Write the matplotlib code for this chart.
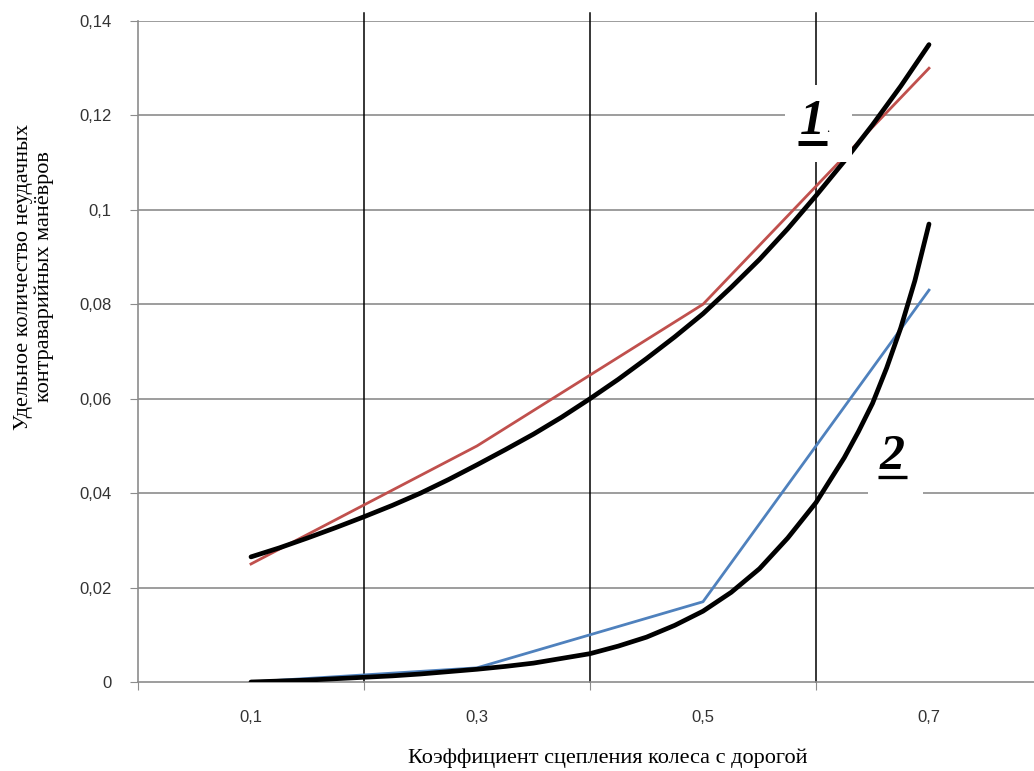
import matplotlib.pyplot as plt
from matplotlib.patches import Rectangle

# values
x_pts = [0.1, 0.3, 0.5, 0.7]
red_vals = [0.025, 0.05, 0.08, 0.13]
blue_vals = [0.0, 0.003, 0.017, 0.083]

x_fit1 = [0.1, 0.125, 0.15, 0.175, 0.2, 0.225, 0.25, 0.275, 0.3, 0.325, 0.35, 0.375, 0.4,
          0.425, 0.45, 0.475, 0.5, 0.525, 0.55, 0.575, 0.6, 0.625, 0.65, 0.675, 0.7]
fit1_vals = [0.0265, 0.0284, 0.0305, 0.0327, 0.035, 0.0374, 0.040, 0.0429, 0.046, 0.0492,
             0.0525, 0.0561, 0.060, 0.0641, 0.0685, 0.0731, 0.078, 0.0836, 0.0895, 0.0960,
             0.103, 0.1103, 0.118, 0.1262, 0.135]
x_fit2 = [0.1, 0.125, 0.15, 0.175, 0.2, 0.225, 0.25, 0.275, 0.3, 0.325, 0.35, 0.375, 0.4,
          0.425, 0.45, 0.475, 0.5, 0.525, 0.55, 0.575, 0.6, 0.625, 0.6375, 0.65, 0.6625,
          0.675, 0.6875, 0.7]
fit2_vals = [0.0, 0.0002, 0.0004, 0.0007, 0.001, 0.0013, 0.0017, 0.0022, 0.0027, 0.0033,
             0.004, 0.005, 0.006, 0.0076, 0.0095, 0.012, 0.015, 0.019, 0.024, 0.0305,
             0.038, 0.0475, 0.053, 0.059, 0.0665, 0.075, 0.085, 0.097]

x_labels = ["0,1", "0,3", "0,5", "0,7"]
y_ticks = [0, 0.02, 0.04, 0.06, 0.08, 0.1, 0.12, 0.14]
y_labels = ["0", "0,02", "0,04", "0,06", "0,08", "0,1", "0,12", "0,14"]

W, H = 1034, 771
fig = plt.figure(figsize=(W / 100, H / 100), dpi=100)
ax = fig.add_axes([138 / W, 89 / H, (W - 138) / W, 661 / H])

xpx = 1130  # pixels per unit x
ypx = 4721  # pixels per unit y
ax.set_xlim(0, (W - 138) / xpx)
ax.set_ylim(0, 0.14)

# grid
for y in y_ticks[1:]:
    ax.axhline(y, color="#8c8c8c", lw=1.2, zorder=1)
for xv in [0.2, 0.4, 0.6]:
    ax.axvline(xv, ymin=0, ymax=1.012, color="black", lw=1.1, zorder=1, clip_on=False)

ax.plot(x_pts, red_vals, color="#c0504d", lw=2.0, zorder=3)
ax.plot(x_pts, blue_vals, color="#4f81bd", lw=2.0, zorder=3)
ax.plot(x_fit1, fit1_vals, color="black", lw=3.4, zorder=4, solid_capstyle="round")
ax.plot(x_fit2, fit2_vals, color="black", lw=3.4, zorder=4, solid_capstyle="round")

# white boxes behind the curve labels
ax.add_patch(Rectangle(((785 - 138) / xpx, (682 - 162) / ypx), 67 / xpx, 77 / ypx,
                       facecolor="white", edgecolor="none", zorder=5))
ax.add_patch(Rectangle(((868 - 138) / xpx, (682 - 500) / ypx), 55 / xpx, 75 / ypx,
                       facecolor="white", edgecolor="none", zorder=5))

ax.text((812 - 138) / xpx, (682 - 134) / ypx, "1", fontsize=36, family="Liberation Serif",
        fontweight="bold", fontstyle="italic", ha="center", va="baseline", zorder=6)
ax.text((828 - 138) / xpx, (682 - 132) / ypx, ".", fontsize=9, family="Liberation Serif",
        ha="center", va="baseline", zorder=6)
ax.plot([(798 - 138) / xpx, (827 - 138) / xpx], [(682 - 143) / ypx] * 2, color="black",
        lw=3.6, zorder=6, solid_capstyle="butt")
ax.text((892 - 138) / xpx, (682 - 469) / ypx, "2", fontsize=36, family="Liberation Serif",
        fontweight="bold", fontstyle="italic", ha="center", va="baseline", zorder=6)
ax.plot([(878 - 138) / xpx, (907 - 138) / xpx], [(682 - 477) / ypx] * 2, color="black",
        lw=2.4, zorder=6, solid_capstyle="butt")

# axes styling
for s in ["top", "right"]:
    ax.spines[s].set_visible(False)
ax.spines["left"].set_color("#8c8c8c")
ax.spines["bottom"].set_color("#8c8c8c")
ax.spines["left"].set_linewidth(1.2)
ax.spines["bottom"].set_linewidth(1.2)

ax.set_yticks(y_ticks)
ax.set_yticklabels(y_labels, fontsize=12, family="Liberation Sans", color="#333333")
ax.tick_params(axis="y", length=6, color="#8c8c8c", pad=13)

ax.set_xticks([0.0, 0.2, 0.4, 0.6])
ax.set_xticklabels([])
ax.set_xticks(x_pts, minor=True)
ax.set_xticklabels(x_labels, minor=True, fontsize=12, family="Liberation Sans",
                   color="#333333")
ax.tick_params(axis="x", which="major", length=6, color="#8c8c8c")
ax.tick_params(axis="x", which="minor", length=0, pad=20)

ax.set_xlabel("Коэффициент сцепления колеса с дорогой", fontsize=16,
              family="Liberation Serif")
ax.xaxis.set_label_coords((608 - 138) / (W - 138), -67 / 661)
ax.set_ylabel("Удельное количество неудачных\nконтраварийных манёвров", fontsize=16,
              family="Liberation Serif", linespacing=1.12)
ax.yaxis.set_label_coords(-(138 - 54) / (W - 138), (682 - 277) / 661)

fig.savefig("out.png", dpi=100)
